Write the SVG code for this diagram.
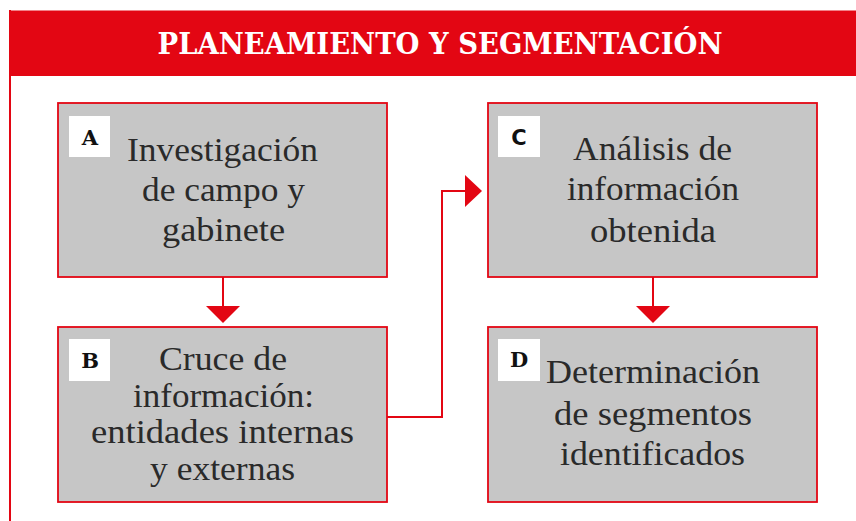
<svg xmlns="http://www.w3.org/2000/svg" width="856" height="521" viewBox="0 0 856 521">
<defs>
<style>
.box{fill:#c6c6c6;stroke:#e30613;stroke-width:1.8}
.tag{fill:#ffffff}
.tagtxt{font-family:"DejaVu Serif","Liberation Serif",serif;font-weight:bold;font-size:21px;fill:#111;text-anchor:middle}
.tagsans{font-family:"DejaVu Sans","Liberation Sans",sans-serif;font-weight:bold;font-size:21px;fill:#111;text-anchor:middle}
.txt{font-family:"Liberation Serif","DejaVu Serif",serif;font-size:33px;fill:#2a2a2a;text-anchor:middle}
.conn{fill:none;stroke:#e30613;stroke-width:2}
.head{fill:#e30613}
</style>
</defs>
<rect x="0" y="0" width="856" height="521" fill="#ffffff"/>
<g id="frame">
<rect x="9" y="10.5" width="847" height="65.5" fill="#e30613"/>
<line x1="10" y1="10" x2="10" y2="521" stroke="#e30613" stroke-width="2"/>
<text x="440" y="53.5" font-family="'DejaVu Serif','Liberation Serif',serif" font-weight="bold" font-size="29" fill="#ffffff" text-anchor="middle" textLength="565" lengthAdjust="spacingAndGlyphs">PLANEAMIENTO Y SEGMENTACIÓN</text>
</g>
<g id="connectors">
<line class="conn" x1="223" y1="277" x2="223" y2="307"/>
<polygon class="head" points="206,306 240,306 223,323"/>
<line class="conn" x1="653" y1="277" x2="653" y2="307"/>
<polygon class="head" points="636,306 670,306 653,323"/>
<polyline class="conn" points="387,417 442,417 442,191 466,191"/>
<polygon class="head" points="465,175 465,207 482,191"/>
</g>
<g id="node-A">
<rect class="box" x="58" y="103" width="329" height="174"/>
<rect class="tag" x="69" y="116" width="41" height="41"/>
<text class="tagtxt" x="90" y="144.5">A</text>
<text class="txt" x="222.5" y="161" textLength="191" lengthAdjust="spacingAndGlyphs">Investigación</text>
<text class="txt" x="223.5" y="201" textLength="163" lengthAdjust="spacingAndGlyphs">de campo y</text>
<text class="txt" x="223.5" y="241" textLength="123" lengthAdjust="spacingAndGlyphs">gabinete</text>
</g>
<g id="node-B">
<rect class="box" x="58" y="327" width="329" height="175"/>
<rect class="tag" x="69" y="339" width="41" height="42"/>
<text class="tagtxt" x="90" y="368">B</text>
<text class="txt" x="223" y="370" textLength="128" lengthAdjust="spacingAndGlyphs">Cruce de</text>
<text class="txt" x="223.5" y="407" textLength="181" lengthAdjust="spacingAndGlyphs">información:</text>
<text class="txt" x="222.5" y="443" textLength="263" lengthAdjust="spacingAndGlyphs">entidades internas</text>
<text class="txt" x="222.5" y="480" textLength="145" lengthAdjust="spacingAndGlyphs">y externas</text>
</g>
<g id="node-C">
<rect class="box" x="488" y="103" width="329" height="174"/>
<rect class="tag" x="498" y="116" width="42" height="41"/>
<text class="tagsans" x="519" y="144.5">C</text>
<text class="txt" x="652.5" y="160" textLength="159" lengthAdjust="spacingAndGlyphs">Análisis de</text>
<text class="txt" x="653" y="200" textLength="172" lengthAdjust="spacingAndGlyphs">información</text>
<text class="txt" x="653" y="242" textLength="126" lengthAdjust="spacingAndGlyphs">obtenida</text>
</g>
<g id="node-D">
<rect class="box" x="488" y="327" width="329" height="175"/>
<rect class="tag" x="498" y="339" width="42" height="42"/>
<text class="tagtxt" x="519" y="366.5">D</text>
<text class="txt" x="653" y="383" textLength="214" lengthAdjust="spacingAndGlyphs">Determinación</text>
<text class="txt" x="653" y="425" textLength="198" lengthAdjust="spacingAndGlyphs">de segmentos</text>
<text class="txt" x="652.5" y="465" textLength="185" lengthAdjust="spacingAndGlyphs">identificados</text>
</g>
</svg>
